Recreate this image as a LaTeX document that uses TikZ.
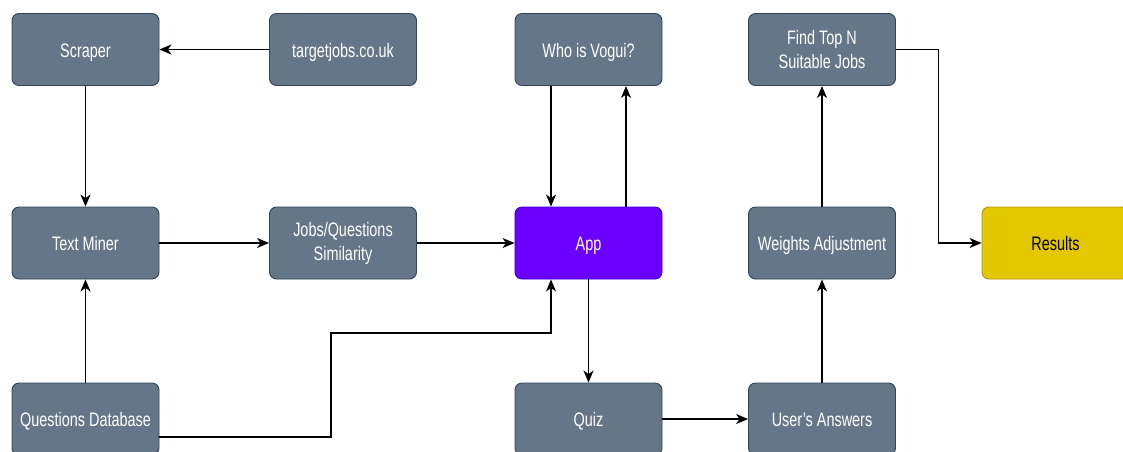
\documentclass[tikz,border=0pt]{standalone}
\usepackage{fontspec}
\setmainfont[FakeStretch=0.74]{Liberation Sans}
\usetikzlibrary{arrows.meta,calc}

\definecolor{slatefill}{HTML}{647687}
\definecolor{slateline}{HTML}{314354}
\definecolor{appfill}{HTML}{6A00FF}
\definecolor{appline}{HTML}{3700CC}
\definecolor{resfill}{HTML}{E3C800}
\definecolor{resline}{HTML}{B09500}

\tikzset{
  box/.style={rectangle, rounded corners=7pt, minimum width=147pt, minimum height=72pt,
    draw=slateline, fill=slatefill, text=white, line width=0.9pt, align=center,
    font=\fontsize{19.5}{24}\selectfont, inner sep=2pt},
  oneline/.style={text height=17pt, text depth=2pt},
  appbox/.style={box, draw=appline, fill=appfill, text=white},
  resbox/.style={box, draw=resline, fill=resfill, text=black},
  conn/.style={-{Stealth[length=12pt,width=10pt,inset=3.5pt]}, line width=1.4pt, draw=black},
}

\begin{document}
\begin{tikzpicture}[x=1pt,y=-1pt]
\useasboundingbox (0,0) rectangle (1123,451);
\clip (0,0) rectangle (1123,451);

% top row
\node[box,oneline] (scraper) at (85.5,49.5) {Scraper};
\node[box,oneline] (target)  at (343,49.5) {targetjobs.co.uk};
\node[box,oneline] (vogui)   at (588.5,49.5) {Who is Vogui?};
\node[box] (topn)    at (822,49.5) {Find Top N\\Suitable Jobs};

% middle row
\node[box,oneline] (miner)   at (85.5,243) {Text Miner};
\node[box] (simil)   at (343,243) {Jobs/Questions\\Similarity};
\node[appbox,oneline] (app)  at (588.5,243) {App};
\node[box,oneline] (weights) at (822,243) {Weights Adjustment};
\node[resbox,oneline] (results) at (1055.5,243) {Results};

% bottom row
\node[box,oneline] (qdb)     at (85.5,419) {Questions Database};
\node[box,oneline] (quiz)    at (588.5,419) {Quiz};
\node[box,oneline] (answers) at (822,419) {User's Answers};

% bend points
\coordinate (qdbout) at ([yshift=-18pt]qdb.east);
\coordinate (appin)  at ([xshift=-37.5pt]app.south);
\coordinate (voguiout) at ([xshift=-37.5pt]vogui.south);
\coordinate (appup)  at ([xshift=37.5pt]app.north);
\coordinate (bendx)  at (331,333);
\coordinate (topnx)  at (938.5,49.5);

% connectors
\draw[conn] (target) -- (scraper);
\draw[conn] (scraper) -- (miner);
\draw[conn] (qdb) -- (miner);
\draw[conn] (miner) -- (simil);
\draw[conn] (simil) -- (app);
\draw[conn] (qdbout) -| (bendx) -| (appin);
\draw[conn] (voguiout) -- (voguiout |- app.north);
\draw[conn] (appup) -- (appup |- vogui.south);
\draw[conn] (app) -- (quiz);
\draw[conn] (quiz) -- (answers);
\draw[conn] (answers) -- (weights);
\draw[conn] (weights) -- (topn);
\draw[conn] (topn.east) -- (topnx) |- (results.west);
\end{tikzpicture}
\end{document}
